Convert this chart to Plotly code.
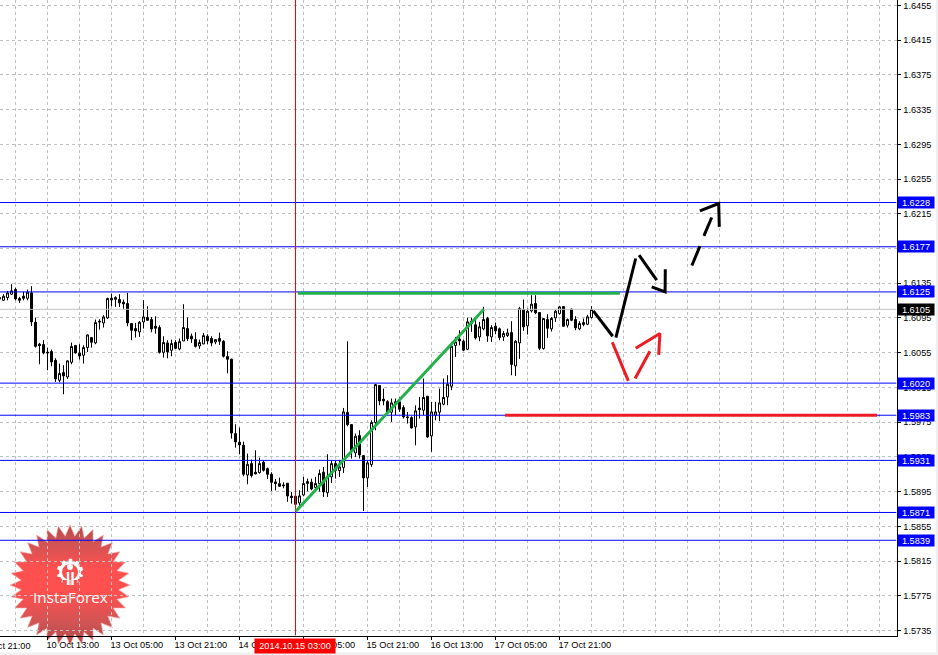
import numpy as np
import plotly.graph_objects as go

# ---- Candle data (H1 bars, index -1 is the one cut by the left edge) ----
opens = [1.61185,1.61154,1.61185,1.61224,1.61277,1.61174,1.61200,1.61177,1.61239,1.60901,
1.60648,1.60644,1.60555,1.60563,1.60463,1.60233,1.60321,1.60271,1.60440,1.60632,
1.60544,1.60521,1.60609,1.60724,1.60663,1.60912,1.60893,1.60951,1.61177,1.61185,
1.61162,1.61131,1.61116,1.60886,1.60828,1.60790,1.60905,1.60955,1.60932,1.60855,
1.60840,1.60555,1.60663,1.60578,1.60667,1.60594,1.60686,1.60828,1.60740,1.60701,
1.60628,1.60651,1.60740,1.60713,1.60674,1.60713,1.60682,1.60505,1.60475,1.59618,
1.59519,1.59484,1.59142,1.59273,1.59173,1.59169,1.59288,1.59215,1.59150,1.59062,
1.59042,1.59027,1.59047,1.58897,1.58897,1.58820,1.58912,1.59043,1.59058,1.58997,
1.59043,1.59173,1.58939,1.59120,1.59273,1.59193,1.59227,1.59861,1.59722,1.59396,
1.59596,1.59365,1.59108,1.59262,1.59746,1.60172,1.60014,1.59987,1.59865,1.59984,
1.59984,1.59918,1.59811,1.59803,1.59696,1.59911,1.59888,1.60049,1.59592,1.59830,
1.59865,1.59957,1.60041,1.60164,1.60633,1.60706,1.60682,1.60590,1.60913,1.60871,
1.60732,1.60825,1.60944,1.60732,1.60855,1.60825,1.60732,1.60748,1.60782,1.60398,
1.60663,1.61047,1.60859,1.61032,1.61116,1.61013,1.60598,1.60932,1.60825,1.60951,
1.61001,1.61082,1.60867,1.61051,1.60932,1.60825,1.60874,1.60878,1.60955]
highs = [1.61200,1.61224,1.61262,1.61339,1.61300,1.61193,1.61254,1.61277,1.61316,1.60955,
1.60663,1.60694,1.60609,1.60586,1.60486,1.60425,1.60406,1.60463,1.60667,1.60640,
1.60648,1.60636,1.60759,1.60732,1.60932,1.60936,1.60982,1.61185,1.61231,1.61200,
1.61224,1.61162,1.61239,1.60893,1.60893,1.60916,1.61154,1.61085,1.60962,1.60970,
1.60866,1.60740,1.60694,1.60701,1.60694,1.60713,1.61108,1.60955,1.60770,1.60786,
1.60701,1.60778,1.60763,1.60740,1.60705,1.60782,1.60694,1.60567,1.60482,1.59726,
1.59688,1.59526,1.59388,1.59319,1.59426,1.59342,1.59304,1.59227,1.59173,1.59096,
1.59112,1.59058,1.59047,1.58947,1.58897,1.58966,1.59120,1.59100,1.59100,1.59120,
1.59204,1.59235,1.59381,1.59312,1.59304,1.59312,1.59914,1.60682,1.59726,1.59619,
1.59657,1.59369,1.59312,1.59772,1.60187,1.60179,1.60137,1.60003,1.60022,1.60022,
1.60034,1.59945,1.59868,1.59818,1.59945,1.60041,1.60252,1.60049,1.59984,1.59984,
1.60137,1.60252,1.60291,1.60675,1.60732,1.60809,1.60702,1.60955,1.60955,1.60924,
1.60905,1.61078,1.60963,1.60867,1.60898,1.60840,1.60798,1.60828,1.60913,1.60694,
1.61078,1.61162,1.61059,1.61212,1.61212,1.61013,1.60951,1.60994,1.60963,1.61047,
1.61090,1.61082,1.60944,1.61059,1.60970,1.60913,1.60944,1.60986,1.61086]
lows = [1.61150,1.61147,1.61154,1.61216,1.61154,1.61124,1.61154,1.61154,1.60859,1.60609,
1.60417,1.60532,1.60348,1.60394,1.60214,1.60210,1.60072,1.60248,1.60417,1.60540,
1.60471,1.60425,1.60559,1.60609,1.60648,1.60816,1.60840,1.60939,1.61085,1.61078,
1.61078,1.61055,1.60855,1.60694,1.60724,1.60732,1.60828,1.60916,1.60786,1.60770,
1.60540,1.60494,1.60486,1.60509,1.60594,1.60578,1.60686,1.60686,1.60663,1.60609,
1.60594,1.60648,1.60648,1.60624,1.60648,1.60640,1.60494,1.60313,1.59561,1.59457,
1.59380,1.59127,1.59035,1.59112,1.59150,1.59158,1.59181,1.59096,1.58958,1.58966,
1.59004,1.58989,1.58832,1.58812,1.58736,1.58774,1.58897,1.58954,1.58966,1.58966,
1.58951,1.58889,1.58889,1.59050,1.59100,1.59120,1.59166,1.59703,1.59331,1.59350,
1.59331,1.58728,1.59004,1.59235,1.59657,1.59945,1.59945,1.59849,1.59753,1.59830,
1.59868,1.59792,1.59734,1.59676,1.59484,1.59792,1.59830,1.59569,1.59408,1.59772,
1.59761,1.59945,1.59945,1.60118,1.60502,1.60636,1.60567,1.60579,1.60790,1.60702,
1.60682,1.60809,1.60675,1.60675,1.60763,1.60694,1.60686,1.60732,1.60291,1.60283,
1.60479,1.60802,1.60759,1.61013,1.60994,1.60579,1.60586,1.60721,1.60794,1.60905,
1.60990,1.60848,1.60840,1.60913,1.60809,1.60809,1.60855,1.60867,1.60944]
closes = [1.61170,1.61200,1.61239,1.61262,1.61170,1.61154,1.61177,1.61247,1.60905,1.60624,
1.60632,1.60548,1.60548,1.60444,1.60248,1.60310,1.60283,1.60456,1.60621,1.60548,
1.60513,1.60609,1.60755,1.60671,1.60897,1.60905,1.60962,1.61174,1.61158,1.61166,
1.61124,1.61112,1.60893,1.60809,1.60801,1.60901,1.60962,1.60924,1.60824,1.60832,
1.60555,1.60667,1.60559,1.60655,1.60601,1.60678,1.60840,1.60713,1.60709,1.60624,
1.60667,1.60747,1.60686,1.60663,1.60701,1.60682,1.60509,1.60475,1.59626,1.59522,
1.59488,1.59150,1.59265,1.59135,1.59154,1.59273,1.59196,1.59150,1.59058,1.59042,
1.59012,1.59019,1.58901,1.58882,1.58805,1.58901,1.59043,1.59066,1.58981,1.59043,
1.59158,1.58947,1.59127,1.59273,1.59196,1.59235,1.59868,1.59722,1.59427,1.59588,
1.59373,1.59108,1.59281,1.59746,1.60183,1.59995,1.59995,1.59868,1.59972,1.59964,
1.59899,1.59811,1.59803,1.59684,1.59880,1.59895,1.60034,1.59580,1.59868,1.59868,
1.59972,1.60034,1.60187,1.60625,1.60675,1.60686,1.60579,1.60905,1.60886,1.60721,
1.60848,1.60932,1.60744,1.60840,1.60802,1.60725,1.60771,1.60778,1.60414,1.60682,
1.61059,1.60848,1.61028,1.61109,1.61009,1.60602,1.60944,1.60832,1.60944,1.61028,
1.61078,1.60855,1.60932,1.60924,1.60836,1.60886,1.60898,1.60963,1.61047]
bar_index = list(range(-1, len(opens) - 1))

# ---- Axis labelling ----
price_ticks = ["1.6455","1.6415","1.6375","1.6335","1.6295","1.6255","1.6215","1.6175","1.6135",
               "1.6095","1.6055","1.6015","1.5975","1.5935","1.5895","1.5855","1.5815","1.5775","1.5735"]
time_tick_index = [11, 27, 43, 59, 75, 91, 107, 123, 139]
time_tick_labels = ["10 Oct 13:00","13 Oct 05:00","13 Oct 21:00","14 Oct 13:00","15 Oct 05:00",
                    "15 Oct 21:00","16 Oct 13:00","17 Oct 05:00","17 Oct 21:00"]
clipped_time_label = "9 Oct 21:00"
grid_index = list(range(3, 220, 8))
cursor_index = 73
cursor_label = "2014.10.15 03:00"

# ---- Horizontal levels ----
blue_levels = [1.6228, 1.6177, 1.6125, 1.6020, 1.5983, 1.5931, 1.5871, 1.5839]
last_price = 1.6105

# ---- Drawn objects (bar index, price) ----
green_flat_x, green_flat_y = [73.6, 154.1], [1.61235, 1.61235]
green_diag_x, green_diag_y = [73.1, 120.1], [1.58725, 1.61051]
red_flat_x, red_flat_y = [125.4, 218.4], [1.5983, 1.5983]
black_x = [[147.45,152.3],[153.1,158.05],[158.9,163.3],[162.05,165.4,165.45],
           [172.1,174.1],[175.1,177.05],[174.1,178.8,178.95]]
black_y = [[1.61032,1.60740],[1.60725,1.61635],[1.61673,1.61385],[1.61308,1.6125,1.61512],
           [1.61554,1.61777],[1.61895,1.62107],[1.62183,1.62268,1.61999]]
red_x = [[152.2,156.2],[157.9,161.6],[158.05,164.1,163.8]]
red_y = [[1.60671,1.60225],[1.60253,1.60567],[1.60602,1.60771,1.60525]]

# ---- Page geometry ----
W, H = 938, 655
AX_R, AX_B = 896.5, 635.5
px_per_price = 8683.0
y_top = 1.6228 + 202.5 / px_per_price
y_bot = 1.6228 - (AX_B - 202.5) / px_per_price
x_lo, x_hi = -3.5 / 4, (AX_R - 3.5) / 4

fig = go.Figure()

# ---- Logo on the page-pixel axes (x/y), underneath the chart ----
cx, cy, n_teeth = 70, 585, 32
ang = np.linspace(0, 2*np.pi, 2*n_teeth + 1)
rad = np.where(np.arange(2*n_teeth + 1) % 2 == 0, 60, 49)
fig.add_trace(go.Scatter(x=cx + rad*np.sin(ang), y=cy - rad*np.cos(ang), mode="lines",
    line=dict(width=1, color="rgba(255,170,170,0.6)"), fill="toself",
    fillgradient=dict(type="vertical", colorscale=[[0,"rgba(178,62,62,0.95)"],[0.18,"rgba(205,75,75,0.95)"],
        [0.42,"rgba(255,80,80,1)"],[0.65,"rgba(255,80,80,1)"],[0.85,"rgba(205,75,75,0.95)"],[1,"rgba(178,62,62,0.95)"]]),
    xaxis="x", yaxis="y", hoverinfo="skip"))
g_ang = np.linspace(0, 2*np.pi, 81)
g_rad = 11 + 2.3*(np.cos(g_ang*10) > 0)
fig.add_trace(go.Scatter(x=70 + g_rad*np.sin(g_ang), y=572 - g_rad*np.cos(g_ang), mode="lines",
    line=dict(width=0, color="white"), fill="toself", fillcolor="white", xaxis="x", yaxis="y", hoverinfo="skip"))
fig.add_trace(go.Scatter(x=70 + 8*np.sin(g_ang), y=572 - 8*np.cos(g_ang), mode="lines",
    line=dict(width=0, color="#fb5050"), fill="toself", fillcolor="#fb5050", xaxis="x", yaxis="y", hoverinfo="skip"))
fig.add_trace(go.Scatter(x=[66, 74], y=[583.5, 583.5], mode="markers",
    marker=dict(symbol="square", size=7, color="#fb5050"), xaxis="x", yaxis="y", hoverinfo="skip"))
fig.add_trace(go.Scatter(x=[70], y=[567], mode="markers", marker=dict(size=6, color="white"),
    xaxis="x", yaxis="y", hoverinfo="skip"))
for sx in (68, 72.5):
    fig.add_trace(go.Scatter(x=[sx, sx], y=[572, 585], mode="lines", line=dict(width=2.4, color="white"),
        xaxis="x", yaxis="y", hoverinfo="skip"))

# ---- Chart on x2/y2 ----
fig.add_trace(go.Candlestick(x=bar_index, open=opens, high=highs, low=lows, close=closes,
    increasing=dict(line=dict(color="black", width=1), fillcolor="white"),
    decreasing=dict(line=dict(color="black", width=1), fillcolor="black"),
    whiskerwidth=0, xaxis="x2", yaxis="y2", hoverinfo="skip"))

def line(x, y, color, width):
    fig.add_trace(go.Scatter(x=x, y=y, mode="lines", line=dict(color=color, width=width),
                             xaxis="x2", yaxis="y2", hoverinfo="skip"))

for lv in blue_levels:
    line([x_lo, x_hi], [lv, lv], "#0000ff", 1)
line([x_lo, x_hi], [last_price, last_price], "#c0c0c0", 1)
line([cursor_index, cursor_index], [y_bot, y_top], "#ff0000", 1)
line(green_flat_x, green_flat_y, "#22b14c", 3)
line(green_diag_x, green_diag_y, "#22b14c", 3)
line(red_flat_x, red_flat_y, "#ed1c24", 3)
for xs, ys in zip(black_x, black_y):
    line(xs, ys, "#000000", 3)
for xs, ys in zip(red_x, red_y):
    line(xs, ys, "#ed1c24", 3)

AXFONT = dict(family="Liberation Sans, Arial, sans-serif", size=9.2, color="#000000")
anns = []
# price boxes
for lv in blue_levels + [last_price]:
    anns.append(dict(x=916, y=lv, xref="x", yref="y2", text=f"{lv:.4f}", showarrow=False,
                     bgcolor="#000000" if lv == last_price else "#0000ff",
                     font=dict(family=AXFONT["family"], size=9.2, color="white"),
                     width=36, height=11, borderpad=0, align="center"))
# cut-off label at the left edge
anns.append(dict(x=-19/W, y=645.5, xref="paper", yref="y", text=clipped_time_label, showarrow=False,
                 xanchor="left", yanchor="middle", font=AXFONT))
# cursor time label
anns.append(dict(x=295, y=645.5, xref="x", yref="y", text=cursor_label, showarrow=False,
                 bgcolor="#ff0000", font=dict(family=AXFONT["family"], size=9.2, color="white"),
                 width=80, height=14, borderpad=0, align="center"))
# logo caption
anns.append(dict(x=70, y=597, xref="x", yref="y", text="InstaForex", showarrow=False,
                 font=dict(family="Open Sans, sans-serif", size=15.3, color="white")))

fig.update_layout(
    width=W, height=H, autosize=False, showlegend=False, hovermode=False,
    margin=dict(l=0, r=0, t=0, b=0), paper_bgcolor="white", plot_bgcolor="rgba(0,0,0,0)",
    boxgap=0.2857,
    xaxis=dict(domain=[0, 1], range=[0, W], visible=False, fixedrange=True),
    yaxis=dict(domain=[0, 1], range=[H, 0], visible=False, fixedrange=True),
    xaxis2=dict(domain=[0, AX_R/W], range=[x_lo, x_hi], anchor="y2", rangeslider=dict(visible=False),
        tickmode="array", tickvals=time_tick_index, ticktext=time_tick_labels,
        ticklabelposition="outside right", ticklabelshift=-2, tickfont=AXFONT, ticks="outside", ticklen=3,
        tickcolor="black", tickangle=0, showgrid=False, zeroline=False, showline=True, linecolor="black",
        linewidth=1, minor=dict(tickmode="array", tickvals=grid_index, showgrid=True, gridcolor="#c0c0c0",
                   griddash="3px,3px", gridwidth=1, ticks=""), fixedrange=True),
    yaxis2=dict(domain=[(H-AX_B)/H, 1], range=[y_bot, y_top], anchor="x2", side="right",
        tickmode="array", tickvals=[float(t) for t in price_ticks], ticktext=price_ticks,
        tickfont=AXFONT, ticks="outside", ticklen=3, tickcolor="black", ticklabelstandoff=1,
        ticklabeloverflow="allow", showgrid=True, gridcolor="#c0c0c0", griddash="3px,3px", gridwidth=1,
        zeroline=False, showline=True, linecolor="black", linewidth=1, fixedrange=True),
    annotations=anns,
    shapes=[dict(type="rect", xref="paper", yref="paper", x0=936/W, x1=1, y0=0, y1=1,
                 fillcolor="#f0f0f0", line_width=0, layer="below"),
            dict(type="rect", xref="paper", yref="paper", x0=0, x1=1, y0=0, y1=2.5/H,
                 fillcolor="#f0f0f0", line_width=0, layer="below")],
)

fig.write_html("out.html", config={"displayModeBar": False},
               post_script="document.body.style.margin='0';document.body.style.overflow='hidden';")
